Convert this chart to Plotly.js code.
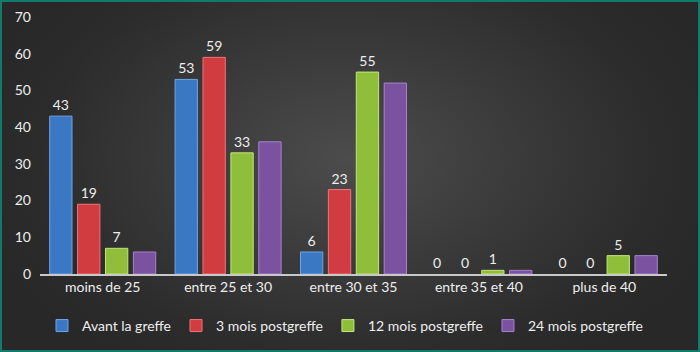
<!DOCTYPE html>
<html>
<head>
<meta charset="utf-8">
<script src="https://cdn.plot.ly/plotly-3.0.1.min.js"></script>
<style>
html,body{margin:0;padding:0;background:#2b2b2b;}
#wrap{position:relative;width:700px;height:352px;overflow:hidden;
 background:radial-gradient(ellipse 55% 70% at 50% 45%, #4c4c4c 0%, #3a3a3a 45%, #2c2c2c 80%, #282828 100%);}
#chart{position:absolute;left:0;top:0;width:700px;height:352px;}
#frame{position:absolute;left:0;top:0;width:700px;height:352px;box-sizing:border-box;border:2px solid #127a6c;pointer-events:none;}
</style>
</head>
<body>
<div id="wrap"><div id="chart"></div><div id="frame"></div></div>
<script>
const categories = ["moins de 25", "entre 25 et 30", "entre 30 et 35", "entre 35 et 40", "plus de 40"];
const seriesNames = ["Avant la greffe", "3 mois postgreffe", "12 mois postgreffe", "24 mois postgreffe"];
const avant = [43, 53, 6, 0, 0];
const mois3 = [19, 59, 23, 0, 0];
const mois12 = [7, 33, 55, 1, 5];
const mois24 = [6, 36, 52, 1, 5];
const showLabels = [true, true, true, false];

const colors = ["#3b78c4", "#d13c40", "#8fbf3a", "#7a52a0"];
const edge = ["#6fa4e6", "#f07478", "#c3e57a", "#a783cc"];
const allVals = [avant, mois3, mois12, mois24];

const font = "Lato, 'Open Sans', sans-serif";
const traces = allVals.map((vals, i) => ({
  type: "bar",
  name: seriesNames[i],
  x: categories,
  y: vals,
  marker: {color: colors[i], line: {color: edge[i], width: vals.map(v => v > 0 ? 1 : 0)}},
  text: showLabels[i] ? vals.map(String) : undefined,
  textposition: showLabels[i] ? "outside" : "none",
  textfont: {family: font, size: 14, color: "#eeeeee"},
  cliponaxis: false,
  hoverinfo: "x+y+name"
}));

const layout = {
  width: 700, height: 352,
  margin: {l: 40, r: 33, t: 17, b: 78},
  paper_bgcolor: "rgba(0,0,0,0)",
  plot_bgcolor: "rgba(0,0,0,0)",
  barmode: "group",
  bargap: 0.11,
  bargroupgap: 0.2,
  font: {family: font, size: 14, color: "#eeeeee"},
  xaxis: {
    showline: true, linecolor: "#c8c8c8", linewidth: 1.5,
    ticks: "", tickfont: {family: font, size: 14, color: "#eeeeee"},
    showgrid: false, automargin: false
  },
  yaxis: {
    range: [0, 70], dtick: 10, showgrid: false, zeroline: false,
    showline: false, ticks: "", ticklen: 0, ticklabelstandoff: 8,
    tickfont: {family: font, size: 14, color: "#eeeeee"}, automargin: false
  },
  showlegend: true,
  legend: {
    orientation: "h", xref: "container", yref: "container",
    x: 0.06, xanchor: "left", y: 0.074, yanchor: "middle",
    font: {family: font, size: 14, color: "#eeeeee"},
    itemwidth: 30, traceorder: "normal"
  }
};

Plotly.newPlot("chart", traces, layout, {displayModeBar: false, staticPlot: true});
</script>
</body>
</html>
